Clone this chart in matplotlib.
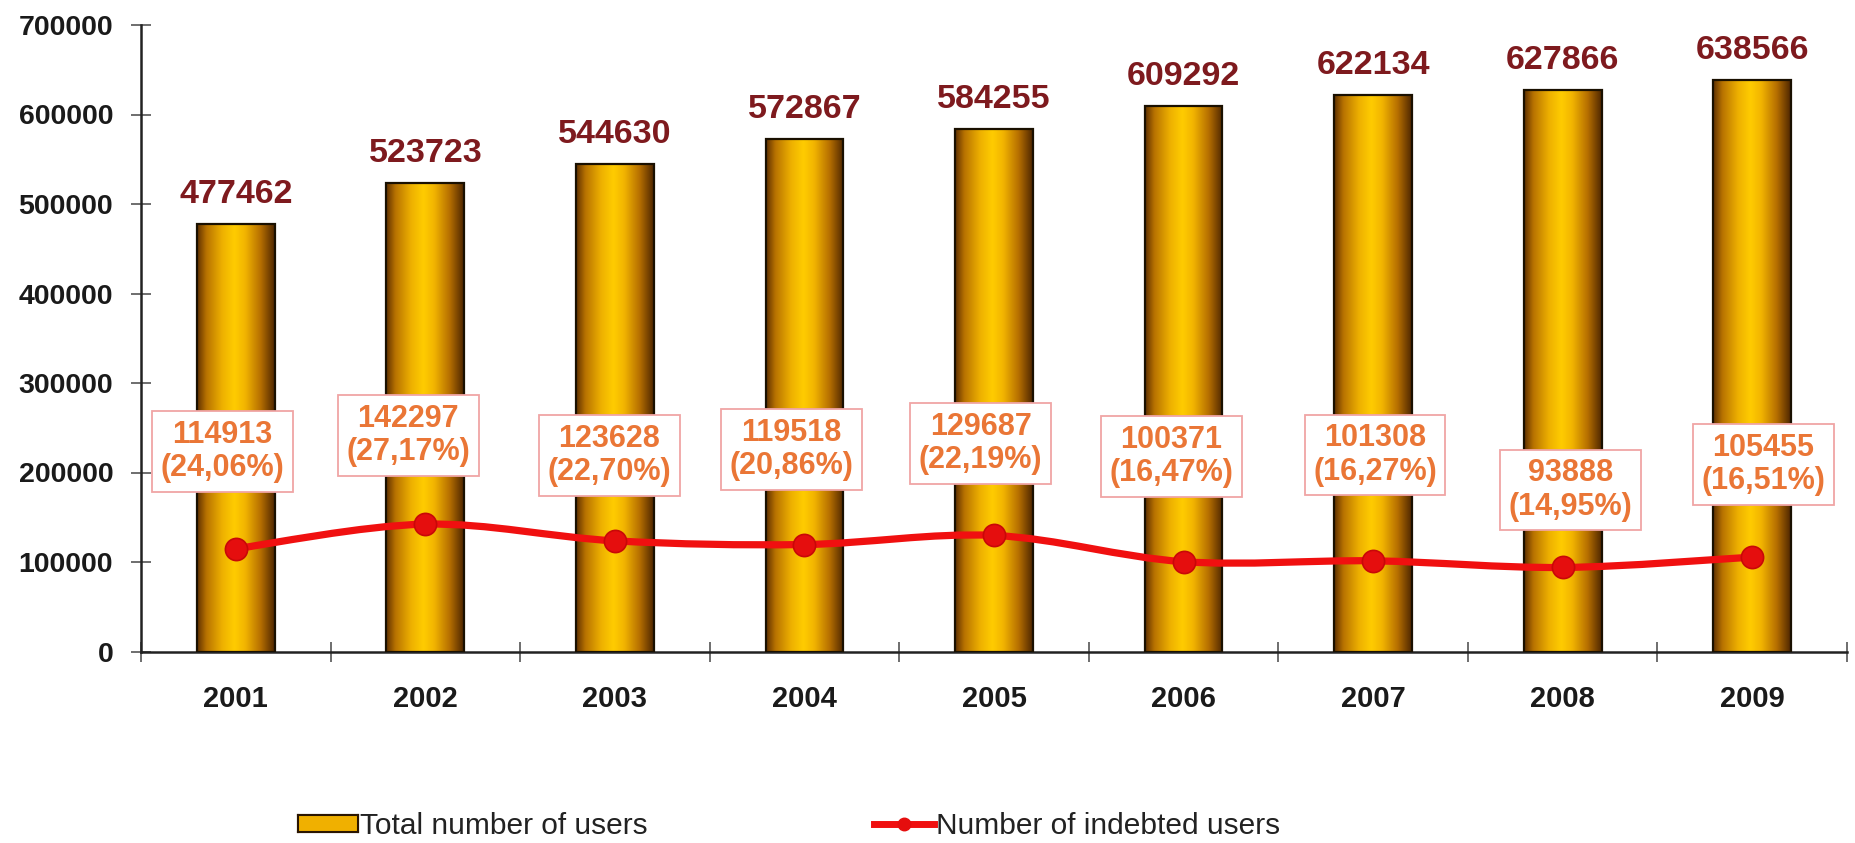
import numpy as np
import matplotlib
matplotlib.use("Agg")
import matplotlib.pyplot as plt
from matplotlib.colors import LinearSegmentedColormap
from matplotlib.patches import Patch, PathPatch
from matplotlib.lines import Line2D
from matplotlib.path import Path

# ---- data ----
years = ["2001", "2002", "2003", "2004", "2005", "2006", "2007", "2008", "2009"]
total_users = [477462, 523723, 544630, 572867, 584255, 609292, 622134, 627866, 638566]
indebted_users = [114913, 142297, 123628, 119518, 129687, 100371, 101308, 93888, 105455]
indebted_share = ["24,06%", "27,17%", "22,70%", "20,86%", "22,19%", "16,47%", "16,27%", "14,95%", "16,51%"]
y_ticks = [0, 100000, 200000, 300000, 400000, 500000, 600000, 700000]

# ---- layout of the callout boxes (x shift in category units, centre height) ----
box_dx = [-0.07, -0.09, -0.03, -0.07, -0.07, -0.065, 0.01, 0.04, 0.06]
box_y = [223500, 241200, 218900, 225600, 232400, 217800, 219600, 180400, 208900]

plt.rcParams["font.family"] = ["Liberation Sans", "DejaVu Sans"]

fig = plt.figure(figsize=(18.55, 8.43), dpi=100)
ax = fig.add_axes([141 / 1855, 1 - 651.5 / 843, (1847 - 141) / 1855, (651.5 - 25) / 843])

x = np.arange(len(years))
bar_w = 0.41

# cylinder-like shading for the bars
cyl = LinearSegmentedColormap.from_list(
    "cyl",
    [(0.0, "#5E3000"), (0.12, "#B87200"), (0.32, "#EDB000"), (0.48, "#FFCC00"),
     (0.62, "#F2B400"), (0.82, "#B56E00"), (1.0, "#4E2600")],
)
grad = np.linspace(0, 1, 256).reshape(1, -1)

bars = ax.bar(x, total_users, width=bar_w, facecolor="none", edgecolor="#1a1000",
              linewidth=1.6, zorder=3)
for b in bars:
    x0, y0 = b.get_x(), b.get_y()
    w, h = b.get_width(), b.get_height()
    im = ax.imshow(grad, cmap=cyl, aspect="auto", extent=(x0, x0 + w, y0, y0 + h),
                   interpolation="bicubic", zorder=2)
    im.set_clip_path(b)

# value labels above the bars
for xi, v in zip(x, total_users):
    ax.annotate(f"{v}", (xi, v), xytext=(0, 15), textcoords="offset points",
                ha="center", va="baseline", fontsize=24.5, fontweight="bold",
                color="#7E1A1E", zorder=6)

# smoothed line through the indebted-user counts
pts = np.column_stack([x, indebted_users]).astype(float)
verts = [tuple(pts[0])]
codes = [Path.MOVETO]
n = len(pts)
for i in range(n - 1):
    p_prev = pts[i - 1] if i > 0 else pts[i]
    p_next2 = pts[i + 2] if i + 2 < n else pts[i + 1]
    c1 = pts[i] + (pts[i + 1] - p_prev) / 6.0
    c2 = pts[i + 1] - (p_next2 - pts[i]) / 6.0
    verts += [tuple(c1), tuple(c2), tuple(pts[i + 1])]
    codes += [Path.CURVE4, Path.CURVE4, Path.CURVE4]
ax.add_patch(PathPatch(Path(verts, codes), facecolor="none", edgecolor="#F01010",
                       linewidth=5.2, capstyle="round", joinstyle="round", zorder=4))
ax.plot(x, indebted_users, linestyle="none", marker="o", markersize=16,
        markerfacecolor="#E50E0E", markeredgecolor="#C80808", markeredgewidth=1.2, zorder=5)

# callout boxes with count and share
for xi, v, s, dx, yb in zip(x, indebted_users, indebted_share, box_dx, box_y):
    ax.text(xi + dx, yb, f"{v}\n({s})", ha="center", va="center", fontsize=22,
            fontweight="bold", color="#EA7636", linespacing=1.15, zorder=7,
            bbox=dict(boxstyle="square,pad=0.28", facecolor="white",
                      edgecolor="#F0A5A5", linewidth=1.3))

# axes styling
ax.set_xlim(-0.5, len(years) - 0.5)
ax.set_ylim(0, 700000)
ax.set_yticks(y_ticks)
ax.set_yticklabels([str(t) for t in y_ticks])
ax.set_xticks(np.arange(len(years) + 1) - 0.5)
ax.set_xticklabels([])
ax.set_xticks(x, minor=True)
ax.set_xticklabels(years, minor=True)
ax.tick_params(axis="y", direction="inout", length=14, width=1.2, color="#555555",
               labelsize=20.5, pad=13)
ax.tick_params(axis="x", which="major", direction="inout", length=14, width=1.2,
               color="#555555")
ax.tick_params(axis="x", which="minor", length=0, labelsize=21, pad=24)
for lab in ax.get_yticklabels() + ax.get_xticklabels(minor=True):
    lab.set_fontweight("bold")
    lab.set_color("#1a1a1a")
for side in ("top", "right"):
    ax.spines[side].set_visible(False)
for side in ("left", "bottom"):
    ax.spines[side].set_linewidth(1.8)
    ax.spines[side].set_color("#222222")

# legend
handles = [
    Patch(facecolor="#F0B000", edgecolor="#2a1500", linewidth=1.5, label="Total number of users"),
    Line2D([0], [0], color="#F01010", linewidth=5, marker="o", markersize=9,
           markerfacecolor="#E50E0E", markeredgecolor="#E50E0E", label="Number of indebted users"),
]
leg = fig.legend(handles=handles, loc="lower left", bbox_to_anchor=(298 / 1855, 0.004),
                 ncol=2, frameon=False, fontsize=21.5, handlelength=2.0, handleheight=0.5,
                 handletextpad=0.07, columnspacing=7.6, borderpad=0, borderaxespad=0,
                 labelcolor="#222222")

# give the bar swatch in the legend the same cylinder shading
fig.canvas.draw()
sw = leg.legend_handles[0].get_window_extent()
W, H = fig.get_size_inches() * fig.dpi
sax = fig.add_axes([sw.x0 / W, sw.y0 / H, sw.width / W, sw.height / H])
sax.imshow(grad, cmap=cyl, aspect="auto", interpolation="bicubic")
sax.set_xticks([])
sax.set_yticks([])
for sp in sax.spines.values():
    sp.set_color("#2a1500")
    sp.set_linewidth(1.5)

fig.savefig("out.png", dpi=100, facecolor="white")
